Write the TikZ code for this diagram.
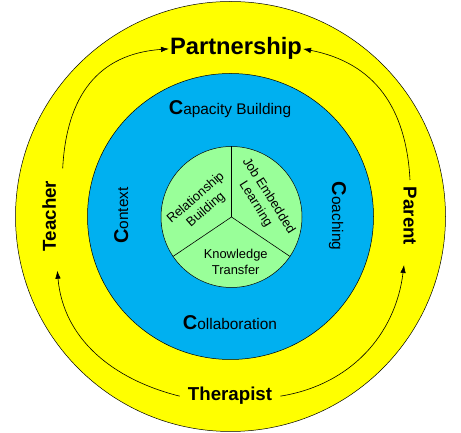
\documentclass[tikz,border=0pt]{standalone}
\usepackage{fontspec}
\setmainfont{Liberation Sans}
\usetikzlibrary{arrows.meta}
\definecolor{ringyellow}{HTML}{FFFF00}
\definecolor{ringblue}{HTML}{00B0F0}
\definecolor{ringgreen}{HTML}{99FF99}
\tikzset{
  ring/.style={draw=black, line width=0.5pt},
  role/.style={font=\bfseries\fontsize{18.7}{22}\selectfont, inner sep=1pt, anchor=base},
  cword/.style={font=\fontsize{15.4}{18}\selectfont, inner sep=1pt, anchor=base},
  inner/.style={font=\fontsize{12.9}{15.5}\selectfont, align=center, inner sep=0pt},
  flow/.style={draw=black, line width=0.6pt, -{Latex[length=8pt,width=5.5pt]}},
  plain/.style={draw=black, line width=0.6pt}
}
\newcommand{\bigC}{{\bfseries\fontsize{20}{24}\selectfont C}}
\begin{document}
\begin{tikzpicture}[x=1pt,y=1pt]
\useasboundingbox (0,0) rectangle (461,433);
% rings
\fill[ringyellow] (230.5,216.5) circle[radius=215];
\draw[ring] (230.5,216.5) circle[radius=215];
\filldraw[ring, fill=ringblue] (230.5,216.5) circle[radius=143];
\coordinate (g) at (231.5,216);
\filldraw[ring, fill=ringgreen] (g) circle[radius=70.5];
\draw[plain] (g) -- ++(90:70.5);
\draw[plain] (g) -- ++(214:70.5);
\draw[plain] (g) -- ++(326:70.5);
% outer labels
\node[role, font=\bfseries\fontsize{23.7}{28}\selectfont] (partnership) at (236,378) {Partnership};
\node[role, rotate=90] (teacher) at (56,217) {Teacher};
\node[role, rotate=-90] (parent) at (403.5,217) {Parent};
\node[role, inner xsep=8pt] (therapist) at (230,32) {Therapist};
% C words
\node[cword] (capacity) at (230,318.5) {\bigC apacity Building};
\node[cword] (collab) at (230,103) {\bigC ollaboration};
\node[cword, rotate=90] (context) at (128,217.5) {\bigC ontext};
\node[cword, rotate=-90] (coaching) at (332,217) {\bigC oaching};
% inner sectors
\node[inner, rotate=41] (relation) at (201,229) {Relationship\\Building};
\node[inner, rotate=-57.5] (job) at (262,233) {Job Embedded\\Learning};
\node[inner] (knowledge) at (235.7,171) {Knowledge\\Transfer};
% connector ends
\coordinate (teacherTop) at (62.7,264.7);
\coordinate (teacherTip) at (57.3,162.3);
\coordinate (parentTop) at (410,253);
\coordinate (parentTip) at (404,168);
% connectors
\draw[flow] (teacherTop) to[out=87, in=184, looseness=1.15] (partnership.west);
\draw[flow] (parentTop) to[out=93, in=349, looseness=1.1] (partnership.east);
\draw[flow] (therapist.west) to[out=166, in=275, looseness=1.0] (teacherTip);
\draw[flow] (therapist.east) to[out=9, in=263, looseness=1.0] (parentTip);
\end{tikzpicture}
\end{document}
